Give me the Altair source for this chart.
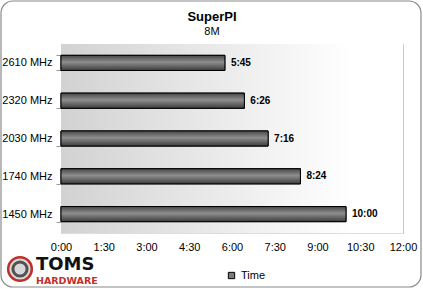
import altair as alt
import pandas as pd

categories = ["2610 MHz", "2320 MHz", "2030 MHz", "1740 MHz", "1450 MHz"]
seconds = [345, 386, 436, 504, 600]
labels = ["5:45", "6:26", "7:16", "8:24", "10:00"]
x_ticks = [0, 90, 180, 270, 360, 450, 540, 630, 720]
series = ["Time"] * 5
title_text = "SuperPI"
subtitle_text = "8M"

W, H = 342, 189
df = pd.DataFrame({"cpu": categories, "sec": seconds, "label": labels, "series": series})
one = pd.DataFrame({"a": [0]})

FONT = "Liberation Sans"

bg = alt.Chart(one).mark_rect(
    fill=alt.Gradient(gradient="linear", x1=0, x2=1, y1=0, y2=0,
                      stops=[alt.GradientStop(offset=0, color="#d2d2d2"),
                             alt.GradientStop(offset=0.85, color="#ffffff"),
                             alt.GradientStop(offset=1, color="#ffffff")])
).encode(x=alt.value(0), x2=alt.value(W), y=alt.value(0), y2=alt.value(H))

frame = alt.Chart(one).mark_rect(
    fill=None, stroke="#8a8a8a", strokeWidth=1.2, cornerRadius=12, clip=False
).encode(x=alt.value(-60), x2=alt.value(W + 18), y=alt.value(-43), y2=alt.value(H + 54))

xenc = alt.X("sec:Q", scale=alt.Scale(domain=[0, 720], nice=False),
             axis=alt.Axis(values=x_ticks, title=None, ticks=False, domain=False,
                           labelExpr="floor(datum.value/60) + ':' + (datum.value % 60 < 10 ? '0' : '') + (datum.value % 60)",
                           labelFont=FONT, labelFontSize=11, labelColor="#000",
                           labelPadding=8, grid=True, gridColor="#c8c8c8",
                           labelFlush=False))
yenc = alt.Y("cpu:N", sort=categories,
             scale=alt.Scale(paddingInner=0.6, paddingOuter=0.3),
             axis=alt.Axis(title=None, domain=False, ticks=True, tickColor="#999",
                           tickSize=5, tickBand="extent", labelFont=FONT, labelFontSize=11,
                           labelColor="#000", labelPadding=4))

legend_bars = alt.Chart(df).mark_bar(stroke="black", strokeWidth=1).encode(
    x=xenc, y=yenc,
    color=alt.Color("series:N", scale=alt.Scale(range=["#7a7a7a"]),
                    legend=alt.Legend(title=None, orient="none", legendX=165, legendY=226,
                                      symbolType="square", symbolSize=40,
                                      symbolStrokeColor="black", symbolStrokeWidth=1,
                                      labelFont=FONT, labelFontSize=11, labelColor="#000"))
)

bars = alt.Chart(df).mark_bar(
    stroke="black", strokeWidth=1,
    fill=alt.Gradient(gradient="linear", x1=0, x2=0, y1=0, y2=1,
                      stops=[alt.GradientStop(offset=0, color="#474747"),
                             alt.GradientStop(offset=0.45, color="#8e8e8e"),
                             alt.GradientStop(offset=1, color="#3c3c3c")])
).encode(x="sec:Q", y=alt.Y("cpu:N", sort=categories))

text = alt.Chart(df).mark_text(align="left", dx=6, font=FONT, fontSize=10,
                               fontWeight="bold", color="#000").encode(
    x="sec:Q", y=alt.Y("cpu:N", sort=categories), text="label:N")

title = alt.Chart(pd.DataFrame({"t": [title_text]})).mark_text(
    font=FONT, fontSize=13, fontWeight="bold", color="#000", baseline="alphabetic", clip=False
).encode(x=alt.value(W / 2 - 20), y=alt.value(-23), text="t:N")
subtitle = alt.Chart(pd.DataFrame({"t": [subtitle_text]})).mark_text(
    font=FONT, fontSize=11, color="#000", baseline="alphabetic", clip=False
).encode(x=alt.value(W / 2 - 20), y=alt.value(-9), text="t:N")

logo_fill = alt.Chart(one).mark_point(
    shape="circle", size=560, fill="#d8d8d8", stroke="#c0302a", strokeWidth=2.5,
    filled=True, opacity=1, clip=False
).encode(x=alt.value(-41), y=alt.value(H + 36))
logo_inner = alt.Chart(one).mark_point(
    shape="circle", size=200, stroke="#1a1a1a", strokeWidth=3, filled=False, clip=False
).encode(x=alt.value(-41), y=alt.value(H + 36))
logo_t1 = alt.Chart(pd.DataFrame({"t": ["TOMS"]})).mark_text(
    font="DejaVu Sans", fontSize=18, fontWeight="bold", align="left", baseline="alphabetic",
    color="#111", clip=False
).encode(x=alt.value(-25), y=alt.value(H + 37), text="t:N")
logo_t2 = alt.Chart(pd.DataFrame({"t": ["HARDWARE"]})).mark_text(
    font="DejaVu Sans", fontSize=9.5, fontWeight="bold", align="left", baseline="alphabetic",
    color="#c0302a", clip=False
).encode(x=alt.value(-25), y=alt.value(H + 51), text="t:N")

chart = alt.layer(bg, frame, legend_bars, bars, text, title, subtitle,
                  logo_fill, logo_inner, logo_t1, logo_t2).properties(
    width=W, height=H,
    autosize=alt.AutoSizeParams(type="none"),
    padding={"left": 61, "top": 44, "right": 20, "bottom": 56},
).configure_view(stroke="#b0b0b0", strokeWidth=1).configure(background="white")

chart.save("out.html", embed_options={"renderer": "svg", "actions": False})
